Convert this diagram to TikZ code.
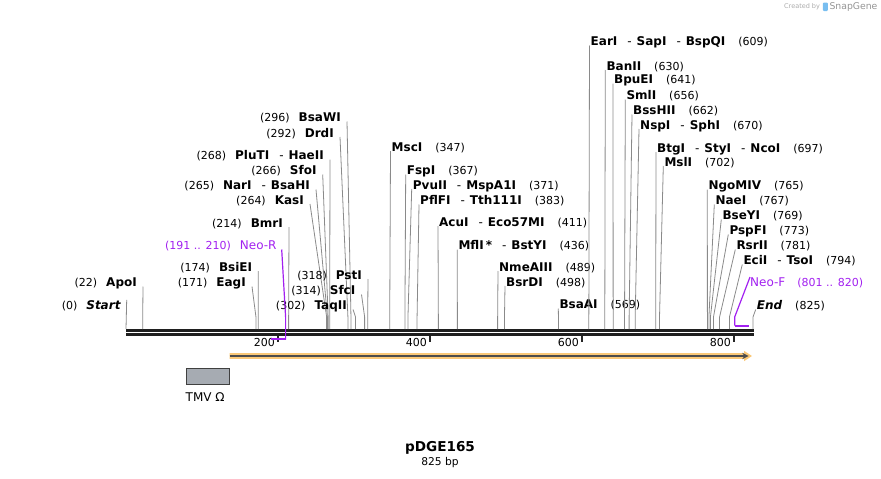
\documentclass[tikz,border=0pt]{standalone}
\usepackage{fontspec}
\setmainfont{DejaVu Sans}
\usetikzlibrary{arrows}

\definecolor{primer}{RGB}{162,32,240}
\definecolor{cutline}{RGB}{138,138,138}
\definecolor{orf}{RGB}{250,200,120}
\definecolor{boxgrey}{RGB}{166,171,178}
\definecolor{logoblue}{RGB}{120,190,240}

\newcommand{\pos}[1]{{\fontsize{11}{13}\selectfont(#1)}}
\newcommand{\enz}[1]{{\bfseries #1}}
\newcommand{\dsh}{\hspace{10pt}-\hspace{5pt}}

\begin{document}
\begin{tikzpicture}[x = 1pt, y = -1pt, % pixel units, y going down
        > = stealth, % arrow head style
        font = \fontsize{12}{14}\selectfont
    ]

    \tikzstyle{lft}=[anchor = base east, inner xsep = 6pt, inner ysep = 0pt]
    \tikzstyle{rgt}=[anchor = base west, inner xsep = 1pt, inner ysep = 0pt]
    \tikzstyle{cut}=[draw = cutline, line width = 0.8pt]
    \tikzstyle{bar}=[draw = black!88, line width = 2.6pt]

    \useasboundingbox (0,0) rectangle (881,479);

    % sites on the sequence, 0.76 px per bp
    \foreach \p in {0,22,171,174,214,264,265,266,268,292,296,302,314,318,347,367,371,383,
                    411,436,489,498,569,609,630,641,656,662,670,697,702,765,767,769,773,781,794,825} {
        \coordinate (s\p) at ({126+0.76*\p},329);
        \coordinate (b\p) at ({126+0.76*\p},317);
    }

    % backbone and ruler
    \coordinate (L0) at (126,330.4); \coordinate (L1) at (753.5,330.4);
    \coordinate (L2) at (126,334.6); \coordinate (L3) at (753.5,334.6);
    \draw[bar] (L0) -- (L1); \draw[bar] (L2) -- (L3);
    \foreach \t in {200,400,600,800} {
        \draw[black!85, line width = 1.3pt] ({126+0.76*\t},335.8) -- ++(0,6);
        \node[anchor = east, inner sep = 0pt, font = \fontsize{11}{13}\selectfont] (t\t)
            at ({126+0.76*\t-3},342.3) {\t};
    }

    % left side labels
    \node[lft] (lStart) at (126.7,309) {\pos{0}\hspace{9pt}\enz{\itshape Start}}; \draw[cut] (lStart.north east) -- (s0);
    \node[lft] (lApoI) at (143,286.5) {\pos{22}\hspace{9pt}\enz{ApoI}}; \draw[cut] (lApoI.base east) -- (b22) -- (s22);
    \node[lft] (lEagI) at (252,286.5) {\pos{171}\hspace{9pt}\enz{EagI}}; \draw[cut] (lEagI.base east) -- (b171) -- (s171);
    \node[lft] (lBsiEI) at (258.3,271) {\pos{174}\hspace{9pt}\enz{BsiEI}}; \draw[cut] (lBsiEI.base east) -- (b174) -- (s174);
    \node[lft] (lBmrI) at (289,227) {\pos{214}\hspace{9pt}\enz{BmrI}}; \draw[cut] (lBmrI.base east) -- (b214) -- (s214);
    \node[lft] (lKasI) at (310,204) {\pos{264}\hspace{9pt}\enz{KasI}}; \draw[cut] (lKasI.base east) -- (b264) -- (s264);
    \node[lft] (lNarI) at (316,189.5) {\pos{265}\hspace{9pt}\enz{NarI}\dsh\enz{BsaHI}}; \draw[cut] (lNarI.base east) -- (b265) -- (s265);
    \node[lft] (lSfoI) at (322.7,174.5) {\pos{266}\hspace{9pt}\enz{SfoI}}; \draw[cut] (lSfoI.base east) -- (b266) -- (s266);
    \node[lft] (lPluTI) at (330,159.5) {\pos{268}\hspace{9pt}\enz{PluTI}\dsh\enz{HaeII}}; \draw[cut] (lPluTI.base east) -- (b268) -- (s268);
    \node[lft] (lDrdI) at (340,137) {\pos{292}\hspace{9pt}\enz{DrdI}}; \draw[cut] (lDrdI.base east) -- (b292) -- (s292);
    \node[lft] (lBsaWI) at (347,121.5) {\pos{296}\hspace{9pt}\enz{BsaWI}}; \draw[cut] (lBsaWI.base east) -- (b296) -- (s296);
    \node[lft] (lTaqII) at (353,309.5) {\pos{302}\hspace{9pt}\enz{TaqII}}; \draw[cut] (lTaqII.base east) -- (b302) -- (s302);
    \node[lft] (lSfcI) at (361.5,294.5) {\pos{314}\hspace{9pt}\enz{SfcI}}; \draw[cut] (lSfcI.base east) -- (b314) -- (s314);
    \node[lft] (lPstI) at (368,279) {\pos{318}\hspace{9pt}\enz{PstI}}; \draw[cut] (lPstI.base east) -- (b318) -- (s318);

    % right side labels
    \node[rgt] (rMscI) at (390.5,151) {\enz{MscI}\hspace{13pt}\pos{347}}; \draw[cut] (rMscI.base west) -- (b347) -- (s347);
    \node[rgt] (rFspI) at (405.7,174.5) {\enz{FspI}\hspace{13pt}\pos{367}}; \draw[cut] (rFspI.base west) -- (b367) -- (s367);
    \node[rgt] (rPvuII) at (411.7,189) {\enz{PvuII}\dsh\enz{MspA1I}\hspace{13pt}\pos{371}}; \draw[cut] (rPvuII.base west) -- (b371) -- (s371);
    \node[rgt] (rPflFI) at (419,204.5) {\enz{PflFI}\dsh\enz{Tth111I}\hspace{13pt}\pos{383}}; \draw[cut] (rPflFI.base west) -- (b383) -- (s383);
    \node[rgt] (rAcuI) at (438,226) {\enz{AcuI}\dsh\enz{Eco57MI}\hspace{13pt}\pos{411}}; \draw[cut] (rAcuI.base west) -- (b411) -- (s411);
    \node[rgt] (rMflI) at (457.3,249.5) {\enz{MflI}\,\enz{*}\dsh\enz{BstYI}\hspace{13pt}\pos{436}}; \draw[cut] (rMflI.base west) -- (b436) -- (s436);
    \node[rgt] (rNmeAIII) at (498,271) {\enz{NmeAIII}\hspace{13pt}\pos{489}}; \draw[cut] (rNmeAIII.base west) -- (b489) -- (s489);
    \node[rgt] (rBsrDI) at (505,286) {\enz{BsrDI}\hspace{13pt}\pos{498}}; \draw[cut] (rBsrDI.base west) -- (b498) -- (s498);
    \node[rgt] (rBsaAI) at (558.3,308.5) {\enz{BsaAI}\hspace{13pt}\pos{569}}; \draw[cut] (rBsaAI.base west) -- (b569) -- (s569);
    \node[rgt] (rEarI) at (589.5,45.5) {\enz{EarI}\dsh\enz{SapI}\dsh\enz{BspQI}\hspace{13pt}\pos{609}}; \draw[cut] (rEarI.base west) -- (b609) -- (s609);
    \node[rgt] (rBanII) at (605.3,70) {\enz{BanII}\hspace{13pt}\pos{630}}; \draw[cut] (rBanII.base west) -- (b630) -- (s630);
    \node[rgt] (rBpuEI) at (613,83.5) {\enz{BpuEI}\hspace{13pt}\pos{641}}; \draw[cut] (rBpuEI.base west) -- (b641) -- (s641);
    \node[rgt] (rSmlI) at (625.3,99.5) {\enz{SmlI}\hspace{13pt}\pos{656}}; \draw[cut] (rSmlI.base west) -- (b656) -- (s656);
    \node[rgt] (rBssHII) at (632,114.5) {\enz{BssHII}\hspace{13pt}\pos{662}}; \draw[cut] (rBssHII.base west) -- (b662) -- (s662);
    \node[rgt] (rNspI) at (639,129) {\enz{NspI}\dsh\enz{SphI}\hspace{13pt}\pos{670}}; \draw[cut] (rNspI.base west) -- (b670) -- (s670);
    \node[rgt] (rBtgI) at (656,152) {\enz{BtgI}\dsh\enz{StyI}\dsh\enz{NcoI}\hspace{13pt}\pos{697}}; \draw[cut] (rBtgI.base west) -- (b697) -- (s697);
    \node[rgt] (rMslI) at (663.3,166) {\enz{MslI}\hspace{13pt}\pos{702}}; \draw[cut] (rMslI.base west) -- (b702) -- (s702);
    \node[rgt] (rNgoMIV) at (707.3,189.5) {\enz{NgoMIV}\hspace{13pt}\pos{765}}; \draw[cut] (rNgoMIV.base west) -- (b765) -- (s765);
    \node[rgt] (rNaeI) at (714.3,204.5) {\enz{NaeI}\hspace{13pt}\pos{767}}; \draw[cut] (rNaeI.base west) -- (b767) -- (s767);
    \node[rgt] (rBseYI) at (721.3,219.5) {\enz{BseYI}\hspace{13pt}\pos{769}}; \draw[cut] (rBseYI.base west) -- (b769) -- (s769);
    \node[rgt] (rPspFI) at (728.3,234.5) {\enz{PspFI}\hspace{13pt}\pos{773}}; \draw[cut] (rPspFI.base west) -- (b773) -- (s773);
    \node[rgt] (rRsrII) at (735.3,249.5) {\enz{RsrII}\hspace{13pt}\pos{781}}; \draw[cut] (rRsrII.base west) -- (b781) -- (s781);
    \node[rgt] (rEciI) at (742.3,264.5) {\enz{EciI}\dsh\enz{TsoI}\hspace{13pt}\pos{794}}; \draw[cut] (rEciI.base west) -- (b794) -- (s794);
    \node[rgt] (rEnd) at (755.7,309.5) {\enz{\itshape End}\hspace{13pt}\pos{825}}; \draw[cut] (rEnd.base west) -- (b825) -- (s825);

    % primers
    \node[lft, text = primer, inner xsep = 5pt] (pNeoR) at (281.7,249.5) {\pos{191 .. 210}\hspace{9pt}Neo-R};
    \coordinate (nrb) at (285.6,317); \coordinate (nre) at (285.6,339.5); \coordinate (nrs) at (271.2,338.6);
    \draw[primer, line width = 1.2pt] (pNeoR.base east) -- (nrb) -- (nre);
    \draw[primer, line width = 2pt] (nre |- nrs) -- (nrs);
    \node[rgt, text = primer, inner xsep = 0pt] (pNeoF) at (750,286) {Neo-F\hspace{12pt}\pos{801 .. 820}};
    \coordinate (nfb) at (734.8,316.7); \coordinate (nfe) at (734.8,325.5); \coordinate (nfs) at (749.2,325.5);
    \draw[primer, line width = 1.2pt] (pNeoF.north west) -- (nfb) -- (nfe);
    \draw[primer, line width = 2pt] (nfe) -- (nfs);

    % feature arrow
    \coordinate (f0) at (229.5,356); \coordinate (f1) at (748.5,356);
    \fill[orf] (229.5,353.1) -- (744,353.1) -- (744,350.8) -- (752,356) -- (744,361.2) -- (744,358.9) -- (229.5,358.9) -- cycle;
    \draw[->, black!70, line width = 1.7pt] (f0) -- (f1);

    % TMV omega box
    \node[draw = black!75, fill = boxgrey, line width = 0.9pt, minimum width = 43pt, minimum height = 16pt,
          inner sep = 0pt] (tmv) at (208,376.2) {};
    \node[anchor = west, inner sep = 0pt] (tmvlbl) at (185.5,397) {TMV Ω};

    % title
    \node[font = \bfseries\fontsize{13.6}{16}\selectfont, inner sep = 0pt] (title) at (440,448) {pDGE165};
    \node[font = \fontsize{10.7}{13}\selectfont, inner sep = 0pt] (size) at (440,463) {825 bp};

    % watermark
    \node[anchor = west, inner sep = 0pt, text = black!33, font = \fontsize{6.5}{8}\selectfont] (cby) at (784,7) {Created by};
    \fill[logoblue, rounded corners = 1pt] (822.8,2.5) rectangle (827.8,11);
    \node[anchor = west, inner sep = 0pt, text = black!42, font = \fontsize{9.3}{11}\selectfont] (sg) at (829.3,7) {SnapGene};
\end{tikzpicture}
\end{document}
